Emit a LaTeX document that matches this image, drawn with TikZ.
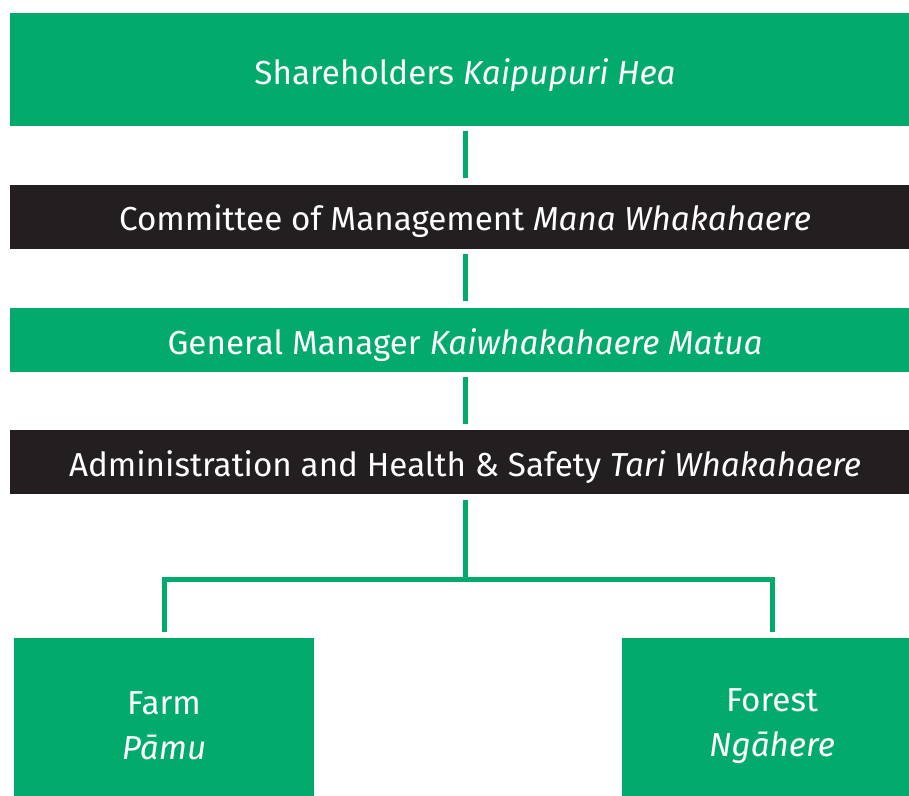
\documentclass[tikz,border=0pt]{standalone}
\usepackage{fontspec}
\setmainfont{Fira Sans}
\usetikzlibrary{calc,positioning}
\definecolor{orgGreen}{RGB}{2,170,108}
\definecolor{orgDark}{RGB}{35,31,32}
\newcommand{\orgfont}{\fontsize{16.6}{22.5}\selectfont}

\begin{document}
\begin{tikzpicture}[
        greenbox/.style={fill=orgGreen, text=white, minimum width=455pt, align=center, font=\orgfont, inner sep=0pt, text height=15pt, text depth=0pt},
        darkbox/.style={fill=orgDark, text=white, minimum width=455pt, minimum height=32pt, align=center, font=\orgfont, inner sep=0pt, text height=14pt, text depth=0pt},
        unitbox/.style={fill=orgGreen, text=white, minimum width=150pt, minimum height=87.5pt, align=center, font=\orgfont, inner sep=0pt},
        link/.style={orgGreen, line width=2.5pt},
        node distance=29pt
      ]
      \useasboundingbox (0,0) rectangle (454.5pt,-398pt);
      \node[greenbox, minimum height=56.5pt] (share) at (232.5pt,-34.75pt) {Shareholders \textit{Kaipupuri Hea}};
      \node[darkbox, below=of share] (committee) {Committee of Management \textit{Mana Whakahaere}};
      \node[greenbox, minimum height=32pt, below=of committee] (manager) {General Manager \textit{Kaiwhakahaere Matua}};
      \node[darkbox, below=of manager] (admin) {Administration and Health \& Safety \textit{Tari Whakahaere}};
      \node[unitbox, below=71.5pt of admin, xshift=-150.5pt] (farm) {Farm \\ \textit{Pāmu}};
      \node[unitbox, below=71.5pt of admin, xshift=153.5pt] (forest) {Forest \\ \textit{Ngāhere}};
      \coordinate (fork) at ($(admin.south)+(0,-42.5pt)$);

      \draw[link, shorten <=2.5pt, shorten >=3pt] (share) -- (committee);
      \draw[link, shorten <=2.5pt, shorten >=3pt] (committee) -- (manager);
      \draw[link, shorten <=2.5pt, shorten >=3pt] (manager) -- (admin);
      \draw[link, shorten <=2.5pt] (admin) -- (fork);
      \draw[link, shorten <=3pt, shorten >=3pt] (farm.north) |- (fork) -| (forest.north);
    \end{tikzpicture}
\end{document}
